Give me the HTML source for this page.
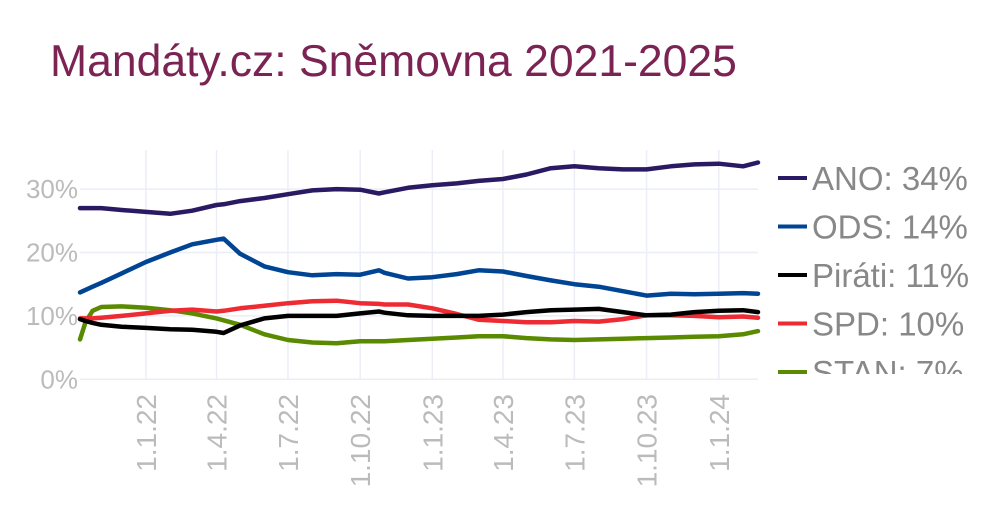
<!DOCTYPE html>
<html><head><meta charset="utf-8">
<style>
html,body{margin:0;padding:0;background:#fff;}
body{width:1000px;height:500px;overflow:hidden;font-family:"Liberation Sans",sans-serif;}
</style></head>
<body>
<svg id="chart" width="1000" height="500" xmlns="http://www.w3.org/2000/svg">
  <defs><clipPath id="legclip"><rect x="760" y="150" width="240" height="224"/></clipPath></defs>
  <text x="50" y="76" font-size="44.5" fill="#7b2454" font-family="Liberation Sans, sans-serif">Mandáty.cz: Sněmovna 2021-2025</text>
  <g id="grid"></g>
  <g id="yticks"></g>
  <g id="xticks"></g>
  <g id="series"></g>
  <g id="legend" clip-path="url(#legclip)"></g>
</svg>
<script>
const dates = ["2021-10-09","2021-10-16","2021-10-25","2021-11-05","2021-12-01","2022-01-01","2022-02-01","2022-03-01","2022-04-01","2022-04-10","2022-05-01","2022-06-01","2022-07-01","2022-08-01","2022-09-01","2022-10-01","2022-10-25","2022-11-01","2022-12-01","2023-01-01","2023-02-01","2023-03-01","2023-04-01","2023-05-01","2023-06-01","2023-07-01","2023-08-01","2023-09-01","2023-10-01","2023-11-01","2023-12-01","2024-01-01","2024-02-01","2024-02-20"];
const ano =    [27.0,27.0,27.0,27.0,26.7,26.4,26.1,26.6,27.5,27.6,28.1,28.6,29.2,29.8,30.0,29.9,29.3,29.5,30.2,30.6,30.9,31.3,31.6,32.3,33.3,33.6,33.3,33.1,33.1,33.6,33.9,34.0,33.6,34.2];
const ods =    [13.7,14.1,14.6,15.2,16.7,18.5,20.0,21.3,22.0,22.2,19.8,17.8,16.9,16.4,16.6,16.5,17.2,16.8,15.9,16.1,16.6,17.2,17.0,16.3,15.6,15.0,14.6,13.9,13.2,13.5,13.4,13.5,13.6,13.5];
const pirati = [9.5,9.2,8.9,8.6,8.3,8.1,7.9,7.8,7.5,7.3,8.5,9.6,10.0,10.0,10.0,10.4,10.7,10.5,10.1,10.0,10.0,10.0,10.2,10.6,10.9,11.0,11.1,10.6,10.1,10.2,10.6,10.8,10.9,10.6];
const spd =    [9.6,9.6,9.6,9.7,10.0,10.4,10.8,11.0,10.7,10.8,11.2,11.6,12.0,12.3,12.4,12.0,11.9,11.8,11.8,11.2,10.3,9.4,9.2,9.0,9.0,9.2,9.1,9.5,10.1,10.1,10.0,9.8,9.9,9.7];
const stan =   [6.3,9.0,10.8,11.4,11.5,11.3,10.9,10.4,9.6,9.3,8.6,7.1,6.2,5.8,5.7,6.0,6.0,6.0,6.2,6.4,6.6,6.8,6.8,6.5,6.3,6.2,6.3,6.4,6.5,6.6,6.7,6.8,7.1,7.6];
const seriesNames = ["ANO: 34%","ODS: 14%","Piráti: 11%","SPD: 10%","STAN: 7%"];
const seriesKeys = ["ano","ods","pirati","spd","stan"];
const seriesColors = ["#2a1a63","#004494","#000000","#ee2a33","#5a8a00"];
const yTicks = [0,10,20,30];
const yTickLabels = ["0%","10%","20%","30%"];
const xTicks = ["2022-01-01","2022-04-01","2022-07-01","2022-10-01","2023-01-01","2023-04-01","2023-07-01","2023-10-01","2024-01-01"];
const xTickLabels = ["1.1.22","1.4.22","1.7.22","1.10.22","1.1.23","1.4.23","1.7.23","1.10.23","1.1.24"];

const NS="http://www.w3.org/2000/svg";
const X0=80,X1=758,Y0=379.3,YPER=6.34;
const t0=Date.parse(dates[0]), t1=Date.parse(dates[dates.length-1]);
function xs(d){return X0+(Date.parse(d)-t0)/(t1-t0)*(X1-X0);}
function ys(v){return Y0-v*YPER;}
function mk(tag,attrs,parent){const e=document.createElementNS(NS,tag);for(const k in attrs)e.setAttribute(k,attrs[k]);parent.appendChild(e);return e;}
const grid=document.getElementById('grid'),yt=document.getElementById('yticks'),xt=document.getElementById('xticks'),sg=document.getElementById('series'),lg=document.getElementById('legend');
yTicks.forEach((v,i)=>{
  const l=mk('line',{x1:X0,x2:X1,y1:ys(v),y2:ys(v),stroke:'#ebeef6','stroke-width':1.5},grid);
  
  
  const t=mk('text',{x:78,y:ys(v)+9,'text-anchor':'end','font-size':26,fill:'#bbbbbb'},yt);
  t.textContent=yTickLabels[i];
  
  
});
xTicks.forEach((d,i)=>{
  const x=xs(d);
  const l=mk('line',{x1:x,x2:x,y1:150,y2:Y0,stroke:'#ebeef6','stroke-width':1.5},grid);
  
  
  const t=mk('text',{x:0,y:0,'text-anchor':'end','font-size':28,fill:'#bbbbbb',transform:`translate(${x+10},394) rotate(-90)`},xt);
  t.textContent=xTickLabels[i];
  
  
});
const data={ano,ods,pirati,spd,stan};
[4,3,2,1,0].forEach(i=>{
  const vals=data[seriesKeys[i]];
  const pts=dates.map((d,j)=>xs(d).toFixed(1)+','+ys(vals[j]).toFixed(1)).join(' ');
  const p=mk('polyline',{points:pts,fill:'none',stroke:seriesColors[i],'stroke-width':4.5,'stroke-linejoin':'round','stroke-linecap':'round'},sg);
  
  
});
seriesNames.forEach((n,i)=>{
  const y=178+i*48.5;
  const g=mk('g',{},lg);
  
  
  mk('line',{x1:778,x2:807,y1:y,y2:y,stroke:seriesColors[i],'stroke-width':4},g);
  const t=mk('text',{x:812,y:y+12,'font-size':33,fill:'#888888'},g);
  t.textContent=n;
});
</script>
</body></html>
